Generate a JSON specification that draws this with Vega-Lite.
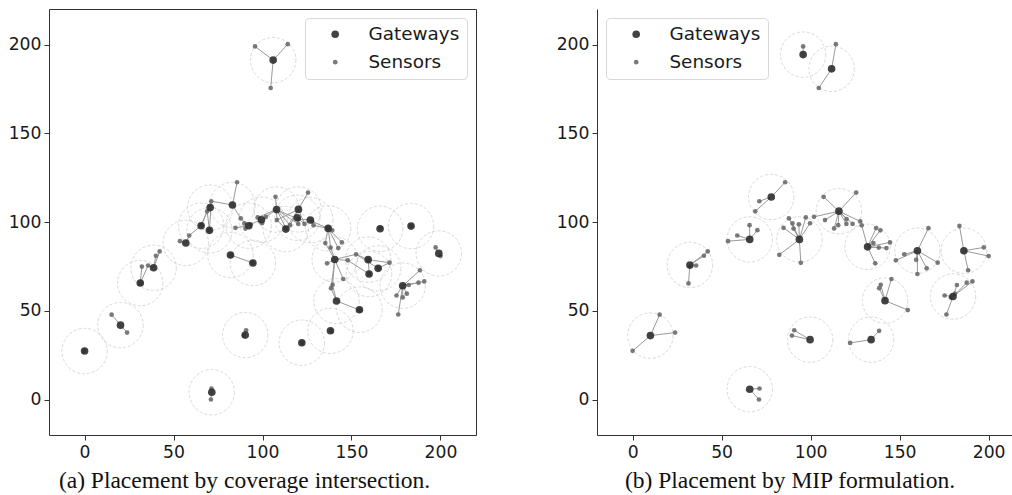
{
  "$schema": "https://vega.github.io/schema/vega-lite/v6.json",
  "padding": {"left": 7, "top": 8, "right": 0, "bottom": 0},
  "datasets": {
    "sensors": [
      {"x":0,"y":27.4,"type":"Sensors"},{"x":15.2,"y":47.8,"type":"Sensors"},{"x":23.9,"y":37.7,"type":"Sensors"},
      {"x":31.4,"y":65.4,"type":"Sensors"},{"x":35.7,"y":75.5,"type":"Sensors"},{"x":40.1,"y":81,"type":"Sensors"},
      {"x":42.2,"y":83.4,"type":"Sensors"},{"x":32.2,"y":74.9,"type":"Sensors"},
      {"x":71.3,"y":6.2,"type":"Sensors"},{"x":71,"y":0,"type":"Sensors"},
      {"x":53.6,"y":89.2,"type":"Sensors"},{"x":58.8,"y":92.4,"type":"Sensors"},{"x":65.7,"y":98.2,"type":"Sensors"},
      {"x":70.1,"y":95.4,"type":"Sensors"},{"x":68.9,"y":106,"type":"Sensors"},{"x":71.2,"y":111.7,"type":"Sensors"},
      {"x":85.7,"y":122.4,"type":"Sensors"},
      {"x":82.4,"y":81.5,"type":"Sensors"},{"x":84.8,"y":96.7,"type":"Sensors"},{"x":87.8,"y":102,"type":"Sensors"},
      {"x":89.8,"y":99.2,"type":"Sensors"},{"x":90.4,"y":96.3,"type":"Sensors"},{"x":93.4,"y":98.7,"type":"Sensors"},
      {"x":97.3,"y":102.6,"type":"Sensors"},{"x":99.7,"y":99.3,"type":"Sensors"},{"x":101.9,"y":102.9,"type":"Sensors"},
      {"x":94.5,"y":77,"type":"Sensors"},
      {"x":90.8,"y":39,"type":"Sensors"},{"x":89.5,"y":36,"type":"Sensors"},
      {"x":107.3,"y":114.2,"type":"Sensors"},{"x":125.6,"y":116.6,"type":"Sensors"},{"x":108.1,"y":101.1,"type":"Sensors"},
      {"x":113.2,"y":96.4,"type":"Sensors"},{"x":115.5,"y":98.2,"type":"Sensors"},{"x":120.2,"y":101.6,"type":"Sensors"},
      {"x":120.1,"y":98.9,"type":"Sensors"},{"x":123.6,"y":98.9,"type":"Sensors"},{"x":127.9,"y":100.3,"type":"Sensors"},
      {"x":128.7,"y":98.1,"type":"Sensors"},
      {"x":136.8,"y":96.6,"type":"Sensors"},{"x":139.2,"y":95.3,"type":"Sensors"},{"x":135.3,"y":88.1,"type":"Sensors"},
      {"x":138.3,"y":85.6,"type":"Sensors"},{"x":142.6,"y":85.3,"type":"Sensors"},{"x":144.6,"y":88.5,"type":"Sensors"},
      {"x":136.3,"y":76.7,"type":"Sensors"},
      {"x":147.9,"y":78.4,"type":"Sensors"},{"x":152.6,"y":81.8,"type":"Sensors"},{"x":159.3,"y":78.7,"type":"Sensors"},
      {"x":160,"y":70.7,"type":"Sensors"},{"x":165.2,"y":73.9,"type":"Sensors"},{"x":166.2,"y":96.5,"type":"Sensors"},
      {"x":171.4,"y":77.1,"type":"Sensors"},
      {"x":183.6,"y":97.8,"type":"Sensors"},{"x":197.3,"y":85.7,"type":"Sensors"},{"x":200,"y":80.8,"type":"Sensors"},
      {"x":188.5,"y":72.8,"type":"Sensors"},
      {"x":190.9,"y":66.5,"type":"Sensors"},{"x":187.7,"y":65.8,"type":"Sensors"},{"x":182.2,"y":64.5,"type":"Sensors"},
      {"x":175.3,"y":58.6,"type":"Sensors"},{"x":176.3,"y":47.9,"type":"Sensors"},{"x":178.8,"y":57.5,"type":"Sensors"},
      {"x":181.1,"y":59.6,"type":"Sensors"},
      {"x":145.4,"y":67.9,"type":"Sensors"},{"x":139.4,"y":64.6,"type":"Sensors"},{"x":138.5,"y":62.7,"type":"Sensors"},
      {"x":154.6,"y":50.4,"type":"Sensors"},
      {"x":138.5,"y":38.7,"type":"Sensors"},{"x":122.2,"y":31.9,"type":"Sensors"},
      {"x":114.2,"y":200.2,"type":"Sensors"},{"x":95.8,"y":198.9,"type":"Sensors"},{"x":104.6,"y":175.5,"type":"Sensors"}
    ],
    "gwA": [
      {"x":0,"y":27.3,"type":"Gateways"},{"x":20.2,"y":41.9,"type":"Gateways"},{"x":31.3,"y":65.6,"type":"Gateways"},
      {"x":38.8,"y":74.2,"type":"Gateways"},{"x":56.9,"y":88.2,"type":"Gateways"},{"x":65.5,"y":97.9,"type":"Gateways"},
      {"x":70.2,"y":95.3,"type":"Gateways"},{"x":70.6,"y":108.1,"type":"Gateways"},{"x":83.1,"y":109.6,"type":"Gateways"},
      {"x":82,"y":81.4,"type":"Gateways"},{"x":94.6,"y":76.9,"type":"Gateways"},{"x":92.3,"y":97.9,"type":"Gateways"},
      {"x":99.4,"y":101.3,"type":"Gateways"},{"x":107.9,"y":107,"type":"Gateways"},{"x":113.1,"y":96,"type":"Gateways"},
      {"x":120.2,"y":107.1,"type":"Gateways"},{"x":119.5,"y":102.4,"type":"Gateways"},{"x":126.9,"y":101.1,"type":"Gateways"},
      {"x":136.9,"y":96.4,"type":"Gateways"},{"x":140.6,"y":78.9,"type":"Gateways"},{"x":159.4,"y":78.8,"type":"Gateways"},
      {"x":159.9,"y":70.7,"type":"Gateways"},{"x":165,"y":73.9,"type":"Gateways"},{"x":166.1,"y":96.2,"type":"Gateways"},
      {"x":183.5,"y":97.7,"type":"Gateways"},{"x":199.1,"y":82.3,"type":"Gateways"},{"x":178.8,"y":64.1,"type":"Gateways"},
      {"x":141.6,"y":55.5,"type":"Gateways"},{"x":154.5,"y":50.6,"type":"Gateways"},{"x":138.2,"y":38.7,"type":"Gateways"},
      {"x":122.1,"y":32,"type":"Gateways"},{"x":90.3,"y":36.3,"type":"Gateways"},{"x":71.5,"y":4.1,"type":"Gateways"},
      {"x":106,"y":191.2,"type":"Gateways"}
    ],
    "gwB": [
      {"x":10,"y":36,"type":"Gateways"},{"x":32.2,"y":75.8,"type":"Gateways"},{"x":65.8,"y":5.8,"type":"Gateways"},
      {"x":65.8,"y":90.2,"type":"Gateways"},{"x":77.9,"y":114.1,"type":"Gateways"},{"x":93.7,"y":90.2,"type":"Gateways"},
      {"x":115.9,"y":106.1,"type":"Gateways"},{"x":132,"y":86,"type":"Gateways"},{"x":160,"y":83.8,"type":"Gateways"},
      {"x":186.1,"y":83.8,"type":"Gateways"},{"x":180,"y":58,"type":"Gateways"},{"x":141.8,"y":55.7,"type":"Gateways"},
      {"x":99.7,"y":33.7,"type":"Gateways"},{"x":134,"y":33.7,"type":"Gateways"},{"x":95.8,"y":194.3,"type":"Gateways"},
      {"x":111.8,"y":186.3,"type":"Gateways"}
    ],
    "linksA": [
      {"x":106,"y":191.2,"x2":95.8,"y2":198.9},{"x":106,"y":191.2,"x2":114.2,"y2":200.2},{"x":106,"y":191.2,"x2":104.6,"y2":175.5},
      {"x":20.2,"y":41.9,"x2":15.2,"y2":47.8},{"x":20.2,"y":41.9,"x2":23.9,"y2":37.7},
      {"x":31.3,"y":65.6,"x2":32.2,"y2":74.9},{"x":31.3,"y":65.6,"x2":35.7,"y2":75.5},
      {"x":38.8,"y":74.2,"x2":40.1,"y2":81},{"x":38.8,"y":74.2,"x2":42.2,"y2":83.4},{"x":38.8,"y":74.2,"x2":35.7,"y2":75.5},
      {"x":56.9,"y":88.2,"x2":53.6,"y2":89.2},{"x":56.9,"y":88.2,"x2":58.8,"y2":92.4},
      {"x":65.5,"y":97.9,"x2":58.8,"y2":92.4},{"x":65.5,"y":97.9,"x2":68.9,"y2":106},{"x":65.5,"y":97.9,"x2":71.2,"y2":111.7},
      {"x":70.2,"y":95.3,"x2":68.9,"y2":106},{"x":70.2,"y":95.3,"x2":71.2,"y2":111.7},
      {"x":83.1,"y":109.6,"x2":71.2,"y2":111.7},{"x":83.1,"y":109.6,"x2":85.7,"y2":122.4},{"x":83.1,"y":109.6,"x2":87.8,"y2":102},
      {"x":82,"y":81.4,"x2":94.5,"y2":77},
      {"x":92.3,"y":97.9,"x2":87.8,"y2":102},{"x":92.3,"y":97.9,"x2":89.8,"y2":99.2},{"x":92.3,"y":97.9,"x2":90.4,"y2":96.3},
      {"x":92.3,"y":97.9,"x2":93.4,"y2":98.7},{"x":92.3,"y":97.9,"x2":84.8,"y2":96.7},
      {"x":99.4,"y":101.3,"x2":97.3,"y2":102.6},{"x":99.4,"y":101.3,"x2":99.7,"y2":99.3},{"x":99.4,"y":101.3,"x2":101.9,"y2":102.9},
      {"x":99.4,"y":101.3,"x2":93.4,"y2":98.7},
      {"x":107.9,"y":107,"x2":107.3,"y2":114.2},{"x":107.9,"y":107,"x2":101.9,"y2":102.9},{"x":107.9,"y":107,"x2":108.1,"y2":101.1},
      {"x":107.9,"y":107,"x2":113.2,"y2":96.4},{"x":107.9,"y":107,"x2":115.5,"y2":98.2},{"x":107.9,"y":107,"x2":120.1,"y2":98.9},
      {"x":107.9,"y":107,"x2":120.2,"y2":101.6},{"x":107.9,"y":107,"x2":97.3,"y2":102.6},
      {"x":113.1,"y":96,"x2":108.1,"y2":101.1},{"x":113.1,"y":96,"x2":115.5,"y2":98.2},
      {"x":120.2,"y":107.1,"x2":125.6,"y2":116.6},{"x":120.2,"y":107.1,"x2":113.2,"y2":96.4},{"x":120.2,"y":107.1,"x2":115.5,"y2":98.2},
      {"x":120.2,"y":107.1,"x2":123.6,"y2":98.9},{"x":120.2,"y":107.1,"x2":108.1,"y2":101.1},
      {"x":119.5,"y":102.4,"x2":120.1,"y2":98.9},{"x":119.5,"y":102.4,"x2":123.6,"y2":98.9},
      {"x":126.9,"y":101.1,"x2":127.9,"y2":100.3},{"x":126.9,"y":101.1,"x2":128.7,"y2":98.1},{"x":126.9,"y":101.1,"x2":120.2,"y2":101.6},
      {"x":136.9,"y":96.4,"x2":128.7,"y2":98.1},{"x":136.9,"y":96.4,"x2":127.9,"y2":100.3},{"x":136.9,"y":96.4,"x2":139.2,"y2":95.3},
      {"x":136.9,"y":96.4,"x2":135.3,"y2":88.1},{"x":136.9,"y":96.4,"x2":138.3,"y2":85.6},{"x":136.9,"y":96.4,"x2":142.6,"y2":85.3},
      {"x":136.9,"y":96.4,"x2":144.6,"y2":88.5},{"x":136.9,"y":96.4,"x2":136.8,"y2":96.6},
      {"x":140.6,"y":78.9,"x2":136.3,"y2":76.7},{"x":140.6,"y":78.9,"x2":135.3,"y2":88.1},{"x":140.6,"y":78.9,"x2":138.3,"y2":85.6},
      {"x":140.6,"y":78.9,"x2":147.9,"y2":78.4},{"x":140.6,"y":78.9,"x2":152.6,"y2":81.8},{"x":140.6,"y":78.9,"x2":139.4,"y2":64.6},
      {"x":140.6,"y":78.9,"x2":145.4,"y2":67.9},{"x":140.6,"y":78.9,"x2":138.5,"y2":62.7},
      {"x":159.4,"y":78.8,"x2":152.6,"y2":81.8},{"x":159.4,"y":78.8,"x2":171.4,"y2":77.1},{"x":159.4,"y":78.8,"x2":160,"y2":70.7},
      {"x":165,"y":73.9,"x2":171.4,"y2":77.1},{"x":165,"y":73.9,"x2":152.6,"y2":81.8},
      {"x":159.9,"y":70.7,"x2":147.9,"y2":78.4},
      {"x":141.6,"y":55.5,"x2":139.4,"y2":64.6},{"x":141.6,"y":55.5,"x2":138.5,"y2":62.7},{"x":141.6,"y":55.5,"x2":154.6,"y2":50.4},
      {"x":178.8,"y":64.1,"x2":175.3,"y2":58.6},{"x":178.8,"y":64.1,"x2":176.3,"y2":47.9},{"x":178.8,"y":64.1,"x2":182.2,"y2":64.5},
      {"x":178.8,"y":64.1,"x2":187.7,"y2":65.8},{"x":178.8,"y":64.1,"x2":190.9,"y2":66.5},{"x":178.8,"y":64.1,"x2":188.5,"y2":72.8},
      {"x":178.8,"y":64.1,"x2":178.8,"y2":57.5},{"x":178.8,"y":64.1,"x2":181.1,"y2":59.6},
      {"x":199.1,"y":82.3,"x2":197.3,"y2":85.7},{"x":199.1,"y":82.3,"x2":200,"y2":80.8},
      {"x":90.3,"y":36.3,"x2":90.8,"y2":39},
      {"x":71.5,"y":4.1,"x2":71.3,"y2":6.2},{"x":71.5,"y":4.1,"x2":71,"y2":0}
    ],
    "linksB": [
      {"x":0,"y":27.4,"x2":10,"y2":36},{"x":15.2,"y":47.8,"x2":10,"y2":36},{"x":23.9,"y":37.7,"x2":10,"y2":36},
      {"x":31.4,"y":65.4,"x2":32.2,"y2":75.8},{"x":35.7,"y":75.5,"x2":32.2,"y2":75.8},{"x":40.1,"y":81,"x2":32.2,"y2":75.8},
      {"x":42.2,"y":83.4,"x2":32.2,"y2":75.8},
      {"x":71.3,"y":6.2,"x2":65.8,"y2":5.8},{"x":71,"y":0,"x2":65.8,"y2":5.8},
      {"x":53.6,"y":89.2,"x2":65.8,"y2":90.2},{"x":58.8,"y":92.4,"x2":65.8,"y2":90.2},{"x":65.7,"y":98.2,"x2":65.8,"y2":90.2},
      {"x":70.1,"y":95.4,"x2":65.8,"y2":90.2},
      {"x":68.9,"y":106,"x2":77.9,"y2":114.1},{"x":71.2,"y":111.7,"x2":77.9,"y2":114.1},{"x":85.7,"y":122.4,"x2":77.9,"y2":114.1},
      {"x":82.4,"y":81.5,"x2":93.7,"y2":90.2},{"x":84.8,"y":96.7,"x2":93.7,"y2":90.2},{"x":87.8,"y":102,"x2":93.7,"y2":90.2},
      {"x":89.8,"y":99.2,"x2":93.7,"y2":90.2},{"x":90.4,"y":96.3,"x2":93.7,"y2":90.2},{"x":93.4,"y":98.7,"x2":93.7,"y2":90.2},
      {"x":97.3,"y":102.6,"x2":93.7,"y2":90.2},{"x":99.7,"y":99.3,"x2":93.7,"y2":90.2},{"x":94.5,"y":77,"x2":93.7,"y2":90.2},
      {"x":101.9,"y":102.9,"x2":115.9,"y2":106.1},{"x":107.3,"y":114.2,"x2":115.9,"y2":106.1},{"x":125.6,"y":116.6,"x2":115.9,"y2":106.1},
      {"x":108.1,"y":101.1,"x2":115.9,"y2":106.1},{"x":113.2,"y":96.4,"x2":115.9,"y2":106.1},{"x":115.5,"y":98.2,"x2":115.9,"y2":106.1},
      {"x":120.2,"y":101.6,"x2":115.9,"y2":106.1},{"x":120.1,"y":98.9,"x2":115.9,"y2":106.1},{"x":123.6,"y":98.9,"x2":115.9,"y2":106.1},
      {"x":127.9,"y":100.3,"x2":115.9,"y2":106.1},
      {"x":128.7,"y":98.1,"x2":132,"y2":86},{"x":136.8,"y":96.6,"x2":132,"y2":86},{"x":139.2,"y":95.3,"x2":132,"y2":86},
      {"x":135.3,"y":88.1,"x2":132,"y2":86},{"x":138.3,"y":85.6,"x2":132,"y2":86},{"x":142.6,"y":85.3,"x2":132,"y2":86},
      {"x":144.6,"y":88.5,"x2":132,"y2":86},{"x":136.3,"y":76.7,"x2":132,"y2":86},
      {"x":147.9,"y":78.4,"x2":160,"y2":83.8},{"x":152.6,"y":81.8,"x2":160,"y2":83.8},{"x":159.3,"y":78.7,"x2":160,"y2":83.8},
      {"x":160,"y":70.7,"x2":160,"y2":83.8},{"x":165.2,"y":73.9,"x2":160,"y2":83.8},{"x":166.2,"y":96.5,"x2":160,"y2":83.8},
      {"x":171.4,"y":77.1,"x2":160,"y2":83.8},
      {"x":183.6,"y":97.8,"x2":186.1,"y2":83.8},{"x":197.3,"y":85.7,"x2":186.1,"y2":83.8},{"x":200,"y":80.8,"x2":186.1,"y2":83.8},
      {"x":188.5,"y":72.8,"x2":186.1,"y2":83.8},
      {"x":190.9,"y":66.5,"x2":180,"y2":58},{"x":187.7,"y":65.8,"x2":180,"y2":58},{"x":182.2,"y":64.5,"x2":180,"y2":58},
      {"x":175.3,"y":58.6,"x2":180,"y2":58},{"x":176.3,"y":47.9,"x2":180,"y2":58},
      {"x":145.4,"y":67.9,"x2":141.8,"y2":55.7},{"x":139.4,"y":64.6,"x2":141.8,"y2":55.7},{"x":138.5,"y":62.7,"x2":141.8,"y2":55.7},
      {"x":154.6,"y":50.4,"x2":141.8,"y2":55.7},
      {"x":90.8,"y":39,"x2":99.7,"y2":33.7},{"x":89.5,"y":36,"x2":99.7,"y2":33.7},
      {"x":138.5,"y":38.7,"x2":134,"y2":33.7},{"x":122.2,"y":31.9,"x2":134,"y2":33.7},
      {"x":95.8,"y":198.9,"x2":95.8,"y2":194.3},
      {"x":114.2,"y":200.2,"x2":111.8,"y2":186.3},{"x":104.6,"y":175.5,"x2":111.8,"y2":186.3}
    ]
  },
  "spacing": 79,
  "hconcat": [
    {
      "width": 427,
      "height": 426,
      "view": {"stroke": "#333333", "strokeWidth": 1},
      "title": {"text": "(a) Placement by coverage intersection.", "orient": "bottom", "anchor": "middle", "dx": -18, "offset": 8.5, "font": "Liberation Serif", "fontSize": 23.5, "fontWeight": "normal", "color": "#111111"},
      "layer": [
        {
          "data": {"name": "gwA"},
          "mark": {"type": "point", "shape": "circle", "filled": false, "size": 2060, "stroke": "#c9c9c9", "strokeWidth": 1, "strokeDash": [3, 2], "clip": true},
          "encoding": {
            "x": {"field": "x", "type": "quantitative", "scale": {"domain": [-20, 220], "nice": false, "zero": false}, "axis": {"values": [0, 50, 100, 150, 200], "title": null}},
            "y": {"field": "y", "type": "quantitative", "scale": {"domain": [-20, 220], "nice": false, "zero": false}, "axis": {"values": [0, 50, 100, 150, 200], "title": null}}
          }
        },
        {
          "data": {"name": "linksA"},
          "mark": {"type": "rule", "color": "#9a9a9a", "strokeWidth": 1},
          "encoding": {
            "x": {"field": "x", "type": "quantitative"},
            "y": {"field": "y", "type": "quantitative"},
            "x2": {"field": "x2"},
            "y2": {"field": "y2"}
          }
        },
        {
          "data": {"name": "sensors"},
          "mark": {"type": "circle", "opacity": 0.9},
          "encoding": {
            "x": {"field": "x", "type": "quantitative"},
            "y": {"field": "y", "type": "quantitative"},
            "color": {"field": "type", "type": "nominal", "scale": {"domain": ["Gateways", "Sensors"], "range": ["#2e2e2e", "#6c6c6c"]}, "legend": {"orient": "top-right", "title": null}},
            "size": {"field": "type", "type": "nominal", "scale": {"domain": ["Gateways", "Sensors"], "range": [58, 22]}, "legend": {"orient": "top-right", "title": null}}
          }
        },
        {
          "data": {"name": "gwA"},
          "mark": {"type": "circle", "opacity": 0.9},
          "encoding": {
            "x": {"field": "x", "type": "quantitative"},
            "y": {"field": "y", "type": "quantitative"},
            "color": {"field": "type", "type": "nominal"},
            "size": {"field": "type", "type": "nominal"}
          }
        }
      ]
    },
    {
      "width": 416,
      "height": 426,
      "view": {"stroke": null},
      "title": {"text": "(b) Placement by MIP formulation.", "orient": "bottom", "anchor": "middle", "dx": -15, "offset": 8.5, "font": "Liberation Serif", "fontSize": 23.5, "fontWeight": "normal", "color": "#111111"},
      "layer": [
        {
          "data": {"name": "gwB"},
          "mark": {"type": "point", "shape": "circle", "filled": false, "size": 2060, "stroke": "#c9c9c9", "strokeWidth": 1, "strokeDash": [3, 2], "clip": true},
          "encoding": {
            "x": {"field": "x", "type": "quantitative", "scale": {"domain": [-20, 213.7], "nice": false, "zero": false}, "axis": {"values": [0, 50, 100, 150, 200], "title": null, "domain": true, "domainColor": "#333333", "domainWidth": 1}},
            "y": {"field": "y", "type": "quantitative", "scale": {"domain": [-20, 220], "nice": false, "zero": false}, "axis": {"values": [0, 50, 100, 150, 200], "title": null, "domain": true, "domainColor": "#333333", "domainWidth": 1}}
          }
        },
        {
          "mark": {"type": "rule", "color": "#333333", "strokeWidth": 1},
          "encoding": {"y": {"datum": 220}}
        },
        {
          "data": {"name": "linksB"},
          "mark": {"type": "rule", "color": "#9a9a9a", "strokeWidth": 1},
          "encoding": {
            "x": {"field": "x", "type": "quantitative"},
            "y": {"field": "y", "type": "quantitative"},
            "x2": {"field": "x2"},
            "y2": {"field": "y2"}
          }
        },
        {
          "data": {"name": "sensors"},
          "mark": {"type": "circle", "opacity": 0.9},
          "encoding": {
            "x": {"field": "x", "type": "quantitative"},
            "y": {"field": "y", "type": "quantitative"},
            "color": {"field": "type", "type": "nominal", "scale": {"domain": ["Gateways", "Sensors"], "range": ["#2e2e2e", "#6c6c6c"]}, "legend": {"orient": "top-left", "title": null}},
            "size": {"field": "type", "type": "nominal", "scale": {"domain": ["Gateways", "Sensors"], "range": [58, 22]}, "legend": {"orient": "top-left", "title": null}}
          }
        },
        {
          "data": {"name": "gwB"},
          "mark": {"type": "circle", "opacity": 0.9},
          "encoding": {
            "x": {"field": "x", "type": "quantitative"},
            "y": {"field": "y", "type": "quantitative"},
            "color": {"field": "type", "type": "nominal"},
            "size": {"field": "type", "type": "nominal"}
          }
        }
      ]
    }
  ],
  "resolve": {
    "scale": {"color": "independent", "size": "independent"},
    "legend": {"color": "independent", "size": "independent"}
  },
  "config": {
    "font": "DejaVu Sans",
    "axis": {
      "grid": false,
      "domain": false,
      "labelFont": "DejaVu Sans",
      "labelFontSize": 17.2,
      "labelColor": "#1a1a1a",
      "tickColor": "#333333",
      "tickSize": 5,
      "tickWidth": 1,
      "labelPadding": 3,
      "title": null
    },
    "legend": {
      "offset": 9,
      "strokeColor": "#d8d8d8",
      "fillColor": "#ffffff",
      "cornerRadius": 4,
      "padding": 7,
      "labelFont": "DejaVu Sans",
      "labelFontSize": 18.4,
      "labelColor": "#1a1a1a",
      "rowPadding": 9,
      "labelOffset": 24,
      "symbolOffset": 14
    }
  }
}
